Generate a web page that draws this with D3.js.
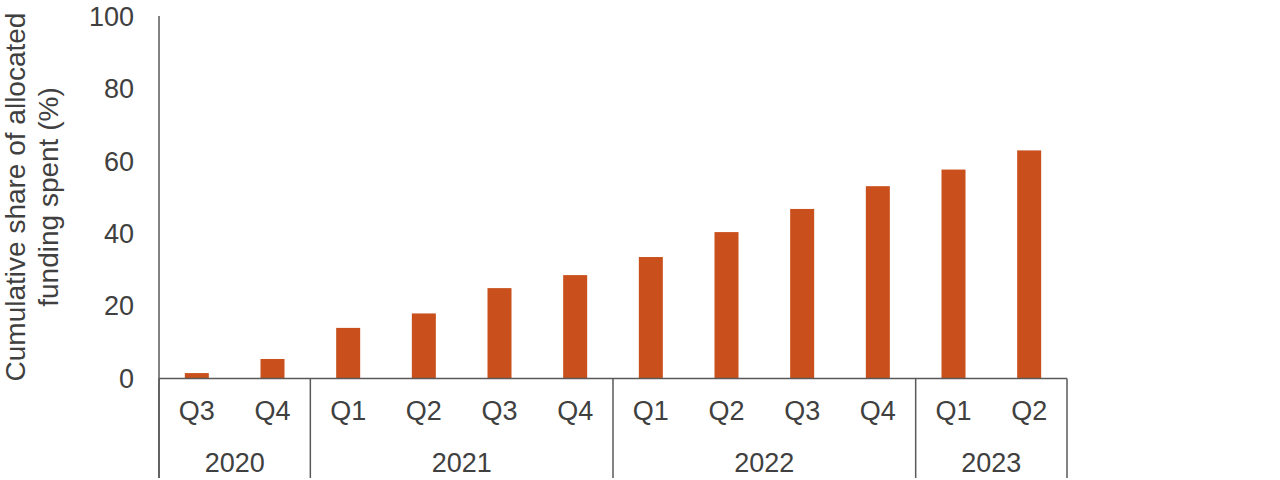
<!DOCTYPE html>
<html>
<head>
<meta charset="utf-8">
<script src="https://cdn.jsdelivr.net/npm/d3@7"></script>
<style>
  html, body { margin: 0; padding: 0; background: #fff; overflow: hidden; }
  svg { display: block; }
  svg text { font-family: "Liberation Sans", Arial, sans-serif; fill: #404040; }
</style>
</head>
<body>
<svg id="chart" width="1280" height="480"></svg>
<script>
const quarters = ["Q3","Q4","Q1","Q2","Q3","Q4","Q1","Q2","Q3","Q4","Q1","Q2"];
const years = ["2020","2020","2021","2021","2021","2021","2022","2022","2022","2022","2023","2023"];
const values = [1.5, 5.4, 14.0, 18.0, 25.0, 28.6, 33.6, 40.5, 46.9, 53.2, 57.8, 63.1];
const yTicks = [0, 20, 40, 60, 80, 100];
const yTitleLines = ["Cumulative share of allocated", "funding spent (%)"];

(function () {
const svg = d3.select("#chart");
const mLeft = 159, mRight = 1067, mTop = 17, mBottom = 378.5, axisBottom = 478;
const idx = d3.range(values.length);
const fontFam = "Liberation Sans, Arial, sans-serif";
const tickFont = "27px";

const xStep = d3.scaleBand().domain(idx).range([mLeft, mRight]);
const y = d3.scaleLinear().domain([0, 100]).range([mBottom, mTop]);
const barW = 24;

const axisColor = "#595959";

// Bars
svg.append("g").selectAll("rect").data(values).join("rect")
  .attr("x", (d, i) => xStep(i) + (xStep.step() - barW) / 2)
  .attr("width", barW)
  .attr("y", d => y(d))
  .attr("height", d => y(0) - y(d))
  .attr("fill", "#C9501C");

// Y axis
const yAxis = d3.axisLeft(y).tickValues(yTicks).tickSize(0).tickPadding(25);
const gy = svg.append("g").attr("transform", `translate(${mLeft},0)`).call(yAxis);
gy.select(".domain").remove();
gy.selectAll("text").style("font-size", tickFont).style("font-family", fontFam).attr("fill", "#404040");

svg.append("line").attr("x1", mLeft).attr("x2", mLeft).attr("y1", mTop - 1).attr("y2", axisBottom)
  .attr("stroke", axisColor).attr("stroke-width", 1.5);

// X axis line
svg.append("line").attr("x1", mLeft).attr("x2", mRight).attr("y1", y(0)).attr("y2", y(0))
  .attr("stroke", axisColor).attr("stroke-width", 1.5);

// Quarter labels
const xAxis = d3.axisBottom(xStep).tickSize(0).tickPadding(0).tickFormat(i => quarters[i]);
const gx = svg.append("g").attr("transform", `translate(0,${y(0)})`).call(xAxis);
gx.select(".domain").remove();
gx.selectAll("text").attr("dy", null).attr("y", 41.5)
  .style("font-size", tickFont).style("font-family", fontFam).attr("fill", "#404040");

// Year groups
const groups = d3.groups(idx, i => years[i]).map(([yr, is]) => ({
  yr, x0: xStep(is[0]), x1: xStep(is[is.length - 1]) + xStep.step()
}));
const bounds = [mLeft, ...groups.map(g => g.x1)];
svg.append("g").selectAll("line").data(bounds).join("line")
  .attr("x1", d => d).attr("x2", d => d)
  .attr("y1", y(0)).attr("y2", axisBottom)
  .attr("stroke", axisColor).attr("stroke-width", 1.5);
svg.append("g").selectAll("text").data(groups).join("text")
  .attr("x", d => (d.x0 + d.x1) / 2)
  .attr("y", 471.5)
  .attr("text-anchor", "middle")
  .style("font-size", tickFont)
  .text(d => d.yr);

// Y title
const title = svg.append("text")
  .attr("transform", "translate(0,197) rotate(-90)")
  .attr("text-anchor", "middle")
  .style("font-size", "28px");
title.selectAll("tspan").data(yTitleLines).join("tspan")
  .attr("x", 0).attr("y", (d, i) => 25 + i * 33)
  .text(d => d);
})();
</script>
</body>
</html>
